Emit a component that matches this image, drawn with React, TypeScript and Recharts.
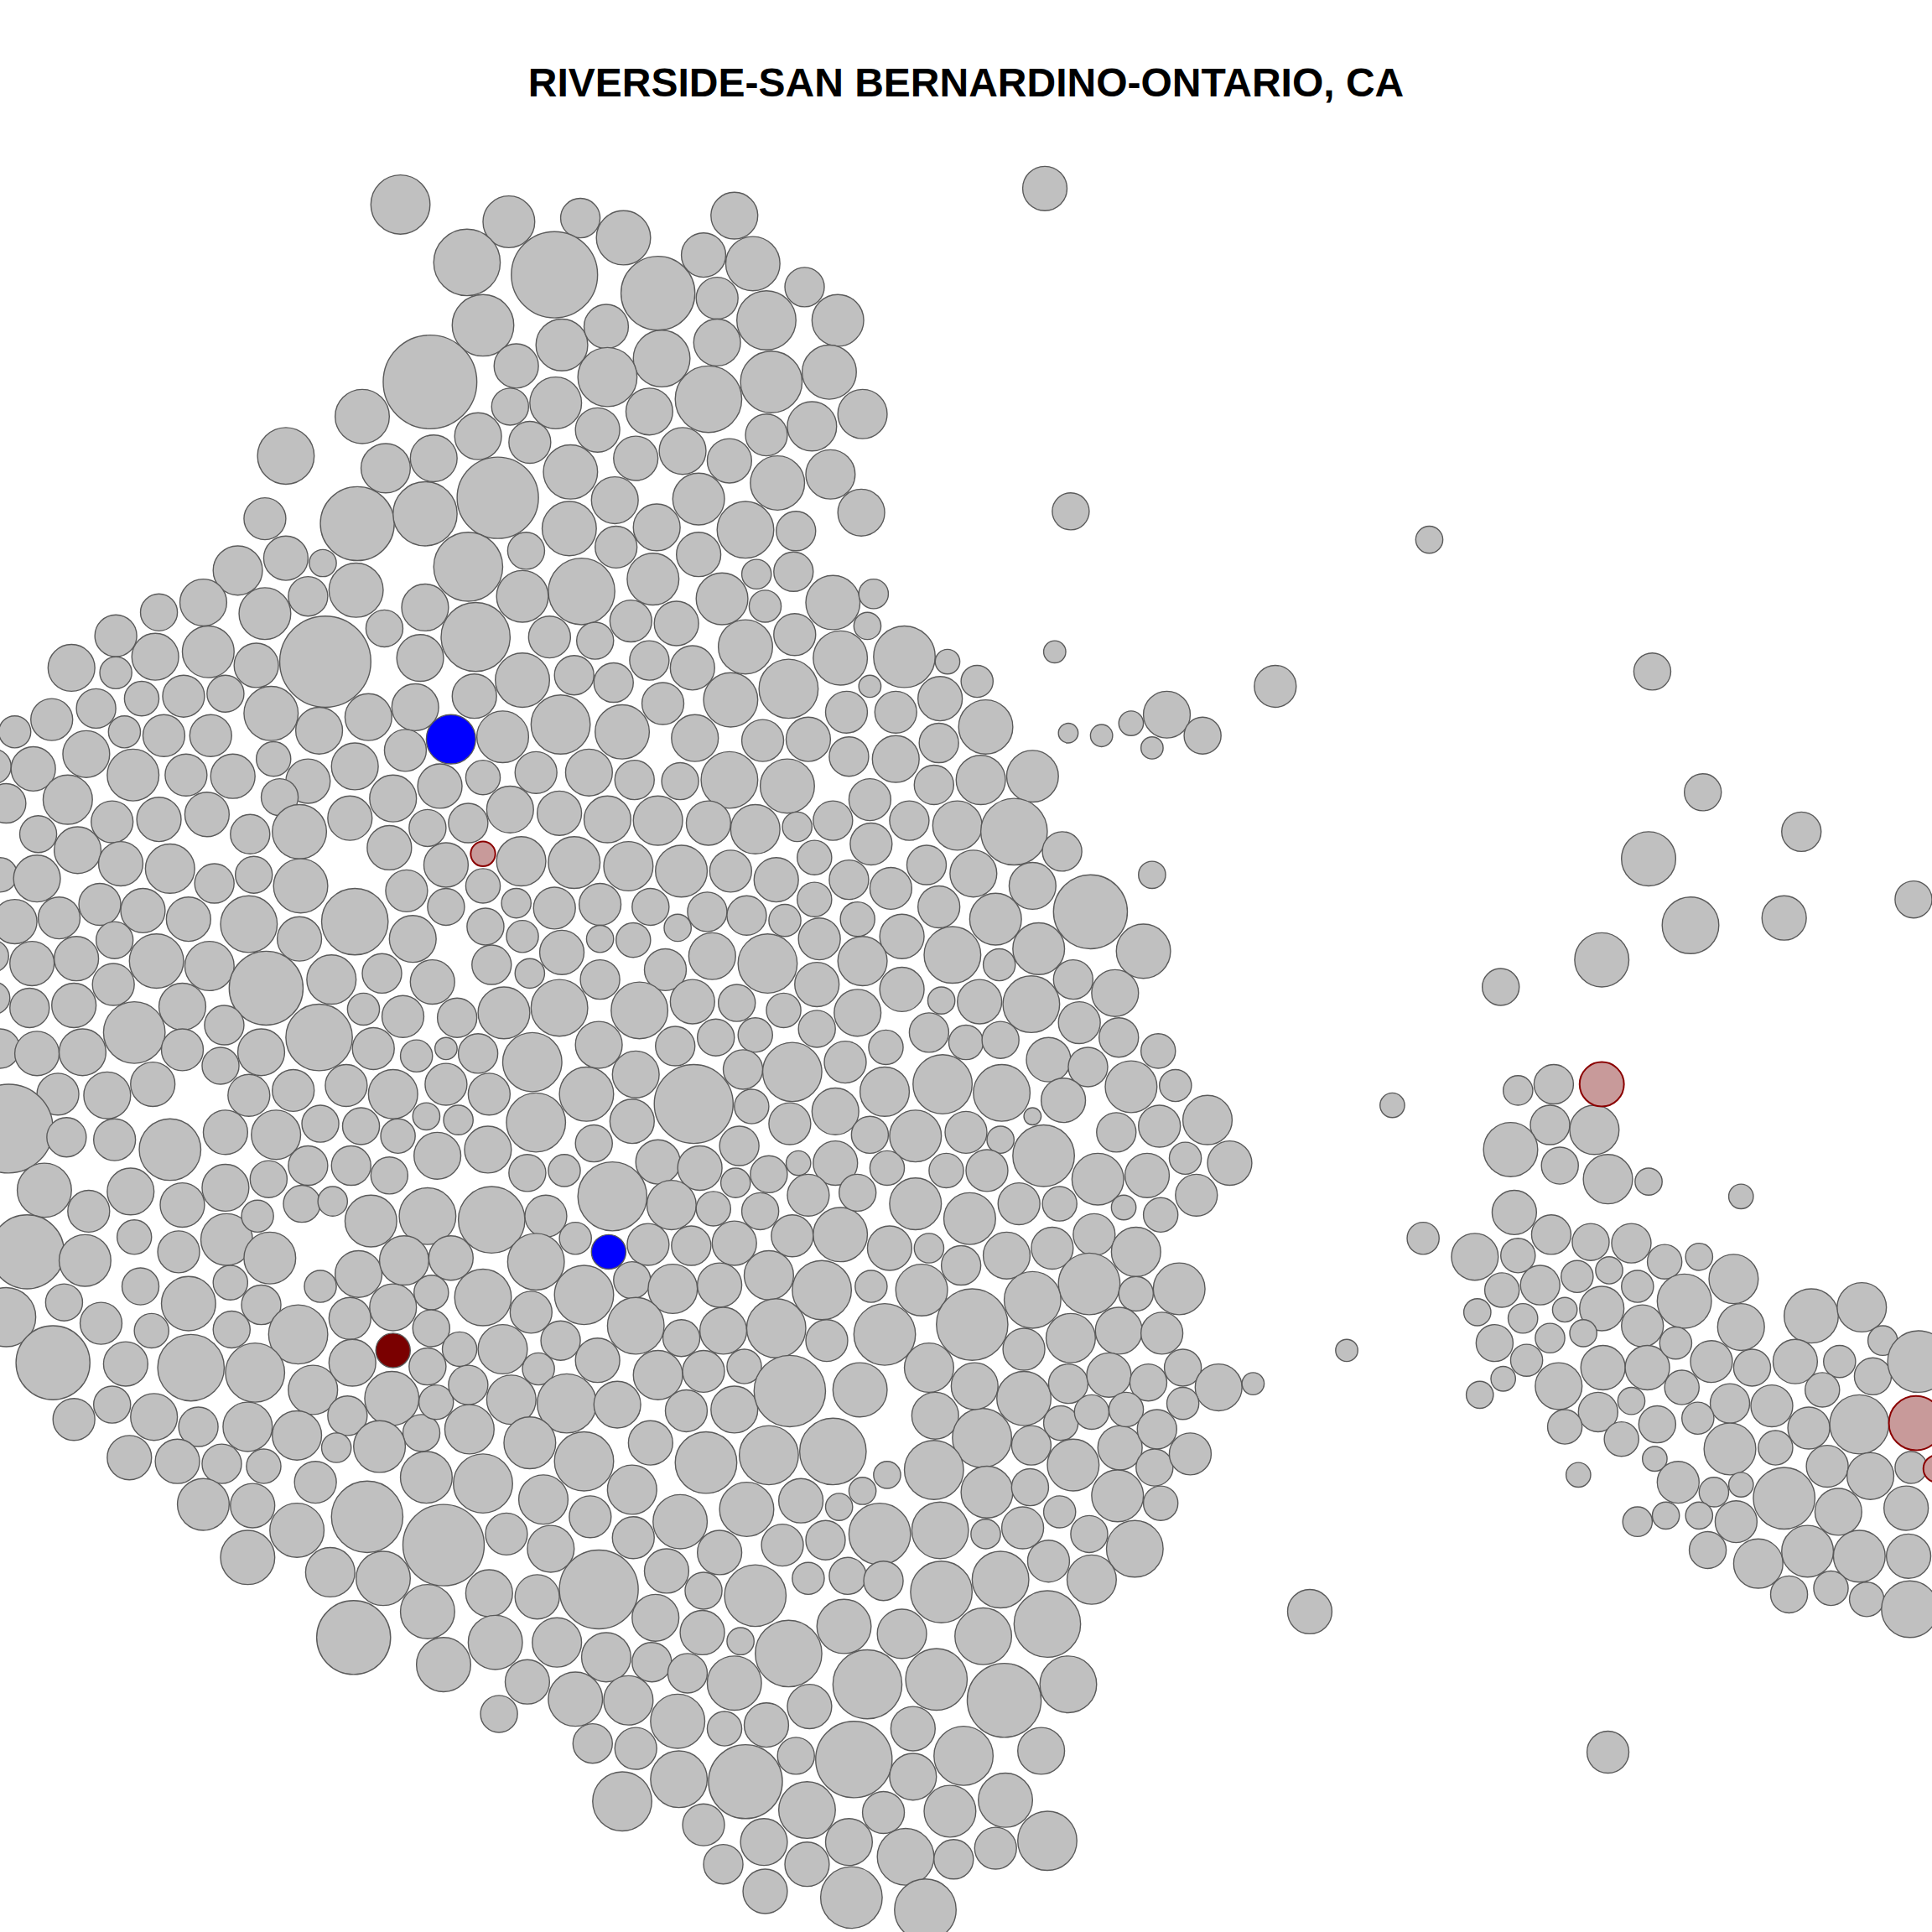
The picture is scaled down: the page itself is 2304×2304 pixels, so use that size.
import { ScatterChart, Scatter, XAxis, YAxis } from 'recharts';

// positions are in the 1568px preview space of the reference, r = radius in the same units
const W = 2304;
const SPAN = 1568;
const K = W / SPAN;

const grayTracts: number[][] = [
  [325,166,24],[413,180,21],[471,177,16],[506,193,22],[596,175,19],[848,153,18],
  [379,213,27],[450,223,35],[534,238,30],[571,207,18],[611,214,22],[653,233,16],
  [582,242,17],[392,264,25],[456,280,21],[492,265,18],[537,291,23],[582,278,19],[622,260,24],[680,260,21],
  [349,310,38],[419,297,18],[493,306,24],[451,327,21],[414,330,15],[527,334,19],[575,324,27],[626,310,25],[673,302,22],[700,336,20],[294,338,22],[659,346,20],
  [232,370,23],[388,354,19],[430,359,17],[485,349,18],[352,372,19],[313,380,20],[516,372,18],[554,366,19],[592,374,18],[622,353,17],[463,383,22],[404,404,33],[631,392,22],[674,385,20],
  [215,421,17],[290,425,30],[345,417,26],[499,406,19],[533,428,19],[567,405,21],[605,430,23],[646,431,16],[699,416,19],[462,429,22],
  [427,447,15],[500,444,17],[567,450,18],[380,460,28],[232,453,18],[193,463,20],[262,457,11],[472,480,27],[530,470,21],[614,466,12],[644,464,16],[424,484,21],[586,486,21],[289,479,22],[250,484,16],[215,498,21],[165,489,19],[129,497,15],[345,493,19],[512,504,17],[621,492,13],[676,489,22],[709,482,12],
  [94,516,17],[312,510,15],[386,517,28],[264,537,37],[446,517,17],[549,506,18],[483,520,15],[605,525,22],[645,515,17],[704,508,11],[126,533,19],[169,529,21],[208,540,18],[341,534,19],[527,536,16],[562,542,18],[682,534,22],[734,533,25],[769,537,10],
  [58,542,19],[94,546,13],[424,552,22],[466,548,16],[498,554,16],[640,559,24],[706,557,9],[793,553,13],[593,568,22],[385,565,18],
  [115,567,14],[149,565,17],[183,563,15],[78,575,16],[220,579,22],[299,582,19],[337,574,19],[455,588,24],[538,571,17],[687,578,17],[727,578,17],[763,567,18],
  [42,584,17],[12,594,13],[101,594,13],[133,597,17],[171,597,17],[259,593,19],[408,598,21],[505,594,22],[564,599,19],[619,601,17],[656,600,18],[762,603,16],[800,590,22],
  [70,612,19],[222,616,14],[329,609,17],[288,622,19],[478,627,19],[435,627,17],[392,631,14],[515,633,16],[552,634,15],[592,633,23],[639,638,22],[689,614,16],[727,616,19],[838,630,21],[796,633,20],
  [-5,622,14],[27,624,18],[108,629,21],[151,629,17],[189,630,18],[250,634,18],[357,638,18],[5,652,16],[55,649,20],[227,647,15],[319,648,19],[414,657,19],[758,637,16],[706,649,17],
  [91,667,17],[129,665,18],[168,661,18],[203,677,16],[243,675,22],[284,664,18],[347,672,15],[380,668,16],[454,660,18],[493,665,19],[534,666,20],[575,668,18],[613,673,20],[647,671,12],[676,666,16],[738,666,16],[777,670,20],[823,675,27],
  [31,677,15],[63,690,19],[0,710,14],[98,701,18],[138,705,20],[174,717,16],[206,710,15],[316,688,18],[362,702,18],[423,699,20],[466,700,21],[510,703,20],[553,707,21],[593,707,17],[661,696,14],[707,685,17],[752,702,16],[790,709,19],[862,691,16],
  [30,713,19],[244,719,22],[288,748,27],[330,723,17],[392,719,14],[419,733,12],[450,737,17],[487,734,17],[528,736,15],[574,740,16],[630,714,18],[661,730,14],[689,714,16],[723,721,17],[762,736,17],[838,719,19],[885,740,30],
  [12,748,18],[48,745,17],[81,734,17],[116,739,18],[153,746,18],[202,750,23],[362,736,15],[550,753,11],[606,743,16],[637,747,13],[665,762,17],[696,746,14],[732,760,18],[808,746,21],[843,770,21],[928,772,22],
  [-6,776,13],[26,782,18],[62,778,18],[93,763,15],[127,780,22],[170,784,20],[243,762,18],[335,762,19],[394,752,15],[424,760,13],[456,773,18],[487,762,11],[514,763,14],[578,776,19],[623,782,24],[700,780,20],[773,775,23],[811,783,13],
  [216,802,30],[92,799,17],[269,795,20],[310,790,16],[351,797,18],[399,783,16],[430,790,12],[487,795,16],[540,787,17],[663,799,18],[732,803,18],[764,812,11],[795,813,18],[871,795,16],[905,806,19],
  [-5,810,13],[24,818,16],[60,816,18],[109,838,25],[148,817,19],[182,832,16],[295,819,13],[327,825,17],[371,826,16],[409,822,21],[454,818,23],[519,820,23],[562,813,18],[598,814,15],[636,820,14],[696,822,19],[754,838,16],[837,815,23],[876,830,17],[908,842,16],
  [0,851,16],[30,855,18],[67,854,19],[148,852,17],[212,854,19],[259,842,27],[303,851,17],[338,857,13],[362,851,9],[388,855,16],[432,862,24],[486,848,19],[548,849,16],[581,842,15],[613,840,14],[663,835,15],[719,850,14],[784,846,14],[812,844,15],[940,853,14],
  [47,888,17],[87,889,19],[124,880,18],[179,865,15],[202,889,17],[238,885,17],[281,881,17],[319,888,20],[362,880,17],[397,888,17],[476,888,22],[516,872,19],[563,896,32],[603,868,16],[643,870,24],[686,862,17],[718,886,20],[765,880,24],[813,887,23],[851,860,18],[883,866,16],[918,882,21],[954,881,13],
  [7,916,36],[54,923,16],[93,925,17],[138,933,25],[183,919,18],[224,921,20],[260,912,15],[293,914,15],[323,922,14],[346,906,11],[372,909,12],[396,933,19],[435,911,24],[482,928,15],[513,910,18],[610,898,14],[641,912,17],[678,902,19],[706,921,15],[743,922,21],[784,919,17],[812,925,11],[838,906,7],[863,893,18],[906,919,16],[941,914,17],[980,909,20],
  [36,966,22],[72,983,17],[106,967,19],[148,978,18],[183,964,19],[218,957,15],[250,946,16],[285,946,16],[316,954,15],[355,938,19],[428,952,15],[458,950,13],[497,971,28],[534,943,18],[568,948,18],[600,930,16],[624,953,15],[648,944,10],[678,944,18],[720,948,14],[768,950,14],[801,950,17],[847,938,25],[891,957,21],[931,954,18],[962,940,13],[998,944,18],
  [22,1016,30],[69,1023,21],[109,1004,14],[145,1016,17],[184,1006,21],[209,987,13],[219,1021,21],[245,977,15],[270,975,12],[301,991,21],[347,987,23],[399,990,27],[443,987,17],[467,1005,13],[526,1010,17],[545,978,20],[579,981,14],[597,960,12],[617,983,15],[656,970,17],[643,1003,17],[682,1002,22],[696,968,15],[743,977,21],[787,989,21],[827,977,17],[860,977,14],[888,1002,17],[912,980,10],[942,986,14],[971,970,17],
  [561,1011,16],[596,1009,18],
  [5,1069,24],[52,1057,15],[82,1074,17],[114,1044,15],[153,1058,22],[187,1041,14],[212,1059,16],[242,1083,24],[260,1044,13],[291,1034,19],[319,1061,19],[328,1023,20],[366,1021,18],[350,1049,14],[284,1070,17],[392,1053,23],[435,1024,23],[431,1065,17],[474,1051,24],[513,1039,15],[546,1046,20],[584,1043,18],[624,1035,20],[667,1047,24],[707,1044,13],[722,1013,18],[754,1013,12],[748,1047,21],[780,1027,16],[817,1019,19],[854,1013,17],[884,1042,25],[922,1050,14],[922,1016,20],[957,1046,21],
  [43,1106,30],[102,1107,18],[123,1080,14],[155,1110,27],[188,1079,15],[207,1114,24],[254,1128,20],[286,1106,19],[350,1078,15],[347,1109,15],[373,1095,14],[408,1095,20],[437,1111,13],[455,1088,16],[485,1104,18],[516,1076,23],[553,1086,15],[587,1080,19],[630,1078,24],[671,1088,17],[718,1083,25],[754,1110,20],[789,1075,29],[838,1055,23],[831,1095,17],[869,1086,20],[908,1080,19],[943,1082,17],
  [60,1152,17],[91,1140,15],[125,1150,19],[161,1158,16],[201,1158,20],[241,1165,20],[282,1149,16],[273,1175,12],[318,1135,22],[342,1163,15],[354,1138,14],[380,1124,16],[381,1160,20],[415,1136,20],[460,1139,24],[501,1140,19],[534,1116,20],[571,1113,17],[557,1145,17],[596,1144,19],[604,1109,14],[641,1129,29],[698,1128,22],[759,1149,19],[797,1167,24],[791,1125,19],[831,1135,22],[867,1123,16],[861,1155,14],[900,1116,18],[932,1122,15],[960,1110,15],[989,1126,19],[1017,1123,9],[1093,1096,9],
  [105,1183,18],[144,1186,18],[180,1188,16],[214,1190,14],[256,1203,17],[308,1174,21],[346,1199,21],[392,1204,24],[430,1171,21],[474,1186,24],[528,1171,18],[573,1187,25],[624,1181,24],[676,1178,27],[720,1197,11],[758,1193,24],[801,1211,21],[837,1173,16],[871,1189,21],[886,1146,14],[909,1175,18],[914,1144,14],[939,1160,16],[937,1191,15],[966,1180,17],[960,1139,13],
  [165,1221,21],[205,1222,18],[241,1242,22],[298,1231,29],[360,1254,33],[411,1245,17],[441,1217,20],[479,1231,17],[513,1209,20],[514,1248,17],[552,1235,22],[606,1225,22],[650,1218,18],[681,1223,11],[700,1210,11],[714,1245,25],[763,1242,23],[800,1245,12],[830,1240,17],[836,1207,15],[860,1227,13],[907,1214,21],[884,1245,15],[942,1220,14],[921,1257,23],
  [201,1264,22],[268,1276,20],[311,1281,22],[347,1308,22],[397,1293,19],[436,1296,18],[447,1257,19],[486,1290,32],[541,1275,18],[571,1291,15],[584,1260,18],[613,1295,25],[635,1254,17],[656,1281,13],[670,1250,16],[688,1279,15],[717,1283,16],[764,1292,25],[812,1282,23],[851,1267,17],[886,1282,20],
  [287,1329,30],[402,1333,22],[452,1333,20],[492,1345,20],[532,1313,19],[529,1349,16],[570,1325,18],[601,1332,11],[640,1342,27],[685,1320,22],[732,1326,20],[798,1328,23],[850,1318,27],[1063,1308,18],
  [360,1351,22],[428,1365,18],[467,1379,22],[405,1391,15],[510,1380,20],[558,1358,16],[596,1366,22],[704,1367,28],[760,1363,25],[815,1380,30],[867,1367,23],[657,1385,18],
  [481,1415,16],[516,1419,17],[550,1397,22],[588,1403,14],[622,1400,18],[646,1425,15],[693,1428,31],[741,1403,18],[782,1425,24],[845,1421,19],[1305,1422,17],
  [505,1462,24],[551,1444,23],[605,1446,30],[655,1469,23],[717,1471,17],[741,1442,19],[771,1470,21],[816,1461,22],[571,1481,17],[620,1495,19],[689,1495,19],[735,1507,23],[774,1509,16],[808,1500,17],[850,1494,24],[587,1513,16],[655,1513,18],[621,1535,18],[691,1540,25],[751,1550,25],
  // outliers to the east
  [869,415,15],[1160,438,11],[856,529,9],[1035,557,17],[1341,545,15],[947,580,19],[918,587,10],[894,597,9],[867,595,8],[935,607,9],[976,597,15],[1382,643,15],[1462,675,16],[1338,697,22],[935,710,11],[1372,751,23],[1448,745,18],[1553,730,15],[1300,779,22],[1218,801,15],[1130,897,10],
  // eastern cluster
  [1232,885,12],[1261,880,16],[1258,913,16],[1294,917,20],[1226,933,22],[1266,946,15],[1305,957,20],[1338,959,11],[1413,971,10],[1229,984,18],[1155,1005,13],[1259,1002,16],[1291,1008,15],[1324,1009,16],[1197,1020,19],[1232,1019,14],[1306,1031,11],[1351,1024,14],[1379,1020,11],[1407,1038,20],
  [1219,1047,14],[1250,1043,16],[1280,1036,13],[1329,1044,13],[1367,1056,22],[1300,1062,18],[1199,1065,11],[1236,1070,12],[1270,1063,10],[1333,1076,17],[1413,1077,19],[1470,1068,22],[1511,1061,20],[1528,1088,12],
  [1213,1090,15],[1258,1086,12],[1285,1082,11],[1239,1104,13],[1301,1110,18],[1337,1110,18],[1360,1090,13],[1389,1105,17],[1422,1110,15],[1457,1105,18],[1493,1105,13],[1520,1117,15],[1557,1105,25],
  [1220,1119,10],[1201,1132,11],[1265,1125,19],[1297,1146,16],[1324,1137,11],[1365,1126,14],[1404,1139,16],[1438,1141,17],[1479,1128,14],[1509,1156,24],
  [1270,1158,14],[1316,1168,14],[1345,1156,15],[1378,1151,13],[1404,1176,21],[1441,1175,14],[1468,1159,17],[1551,1191,13],
  [1281,1197,10],[1343,1184,10],[1362,1203,17],[1391,1211,12],[1413,1205,10],[1448,1216,25],[1483,1190,17],[1518,1198,19],
  [1329,1235,12],[1352,1230,11],[1379,1230,11],[1409,1235,17],[1492,1227,19],[1547,1224,18],
  [1386,1258,15],[1427,1269,20],[1467,1259,21],[1509,1263,21],[1549,1263,18],[1452,1294,15],[1486,1289,14],[1515,1298,14],[1550,1306,23],
];

const blueTracts: number[][] = [[366,600,20],[494,1016,14]];
const darkRedTracts: number[][] = [[319,1096,14]];
const pinkTracts: number[][] = [[392,693,10],[1300,880,18],[1555,1155,22],[1572,1192,11]];

const toPoints = (rows: number[][]) => rows.map(([x, y, r]) => ({ x, y, r }));

function makeShape(fill: string, stroke: string, strokeWidth: number) {
  return (props: any) => (
    <circle cx={props.cx} cy={props.cy} r={props.payload.r * K} fill={fill} stroke={stroke} strokeWidth={strokeWidth} />
  );
}

export default function App() {
  return (
    <div style={{ position: 'absolute', left: 0, top: 0, width: W, height: W, background: '#fff' }}>
      <ScatterChart width={W} height={W} margin={{ top: 0, right: 0, bottom: 0, left: 0 }}>
        <XAxis type="number" dataKey="x" domain={[0, SPAN]} allowDataOverflow hide />
        <YAxis type="number" dataKey="y" domain={[0, SPAN]} allowDataOverflow reversed hide />
        <Scatter data={toPoints(grayTracts)} shape={makeShape('#c0c0c0', '#5a5a5a', 1.4)} isAnimationActive={false} />
        <Scatter data={toPoints(blueTracts)} shape={makeShape('#0000ff', '#5a5a5a', 1.4)} isAnimationActive={false} />
        <Scatter data={toPoints(darkRedTracts)} shape={makeShape('#7a0000', '#5a5a5a', 1.4)} isAnimationActive={false} />
        <Scatter data={toPoints(pinkTracts)} shape={makeShape('#c89a9a', '#8b0000', 2)} isAnimationActive={false} />
      </ScatterChart>
      <svg width={W} height={160} style={{ position: 'absolute', left: 0, top: 0 }}>
        <text x={1152} y={115} textAnchor="middle" fontFamily="Liberation Sans, Arial, sans-serif" fontWeight="bold" fontSize={48} fill="#000">
          RIVERSIDE-SAN BERNARDINO-ONTARIO, CA
        </text>
      </svg>
    </div>
  );
}
